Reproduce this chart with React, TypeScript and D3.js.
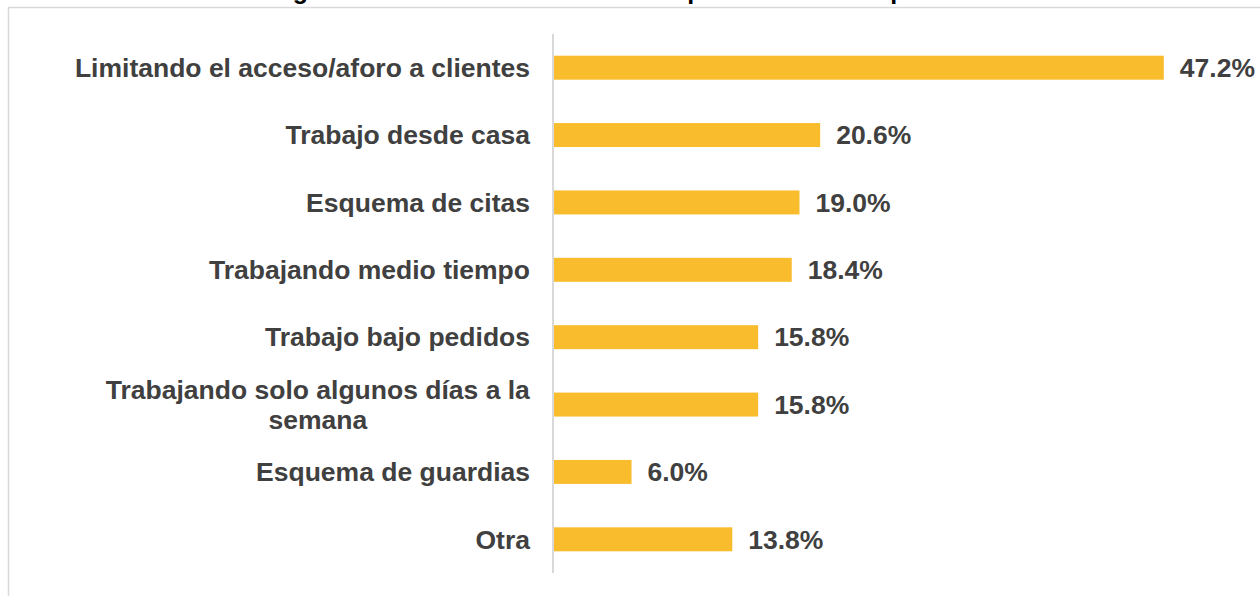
import React from "react";
import * as d3 from "d3";

const categories: string[][] = [
  ["Limitando el acceso/aforo a clientes"],
  ["Trabajo desde casa"],
  ["Esquema de citas"],
  ["Trabajando medio tiempo"],
  ["Trabajo bajo pedidos"],
  ["Trabajando solo algunos días a la", "semana"],
  ["Esquema de guardias"],
  ["Otra"],
];
const values: number[] = [47.2, 20.6, 19.0, 18.4, 15.8, 15.8, 6.0, 13.8];
const title = "Estrategias de los comercios durante la pandemia actual para reabrir";

const W = 1260;
const H = 596;
const FONT = "'Liberation Sans', Arial, Helvetica, sans-serif";
const BAR = "#F9BC2C";
const TXT = "#404040";

export default function App() {
  const keys = categories.map((c) => c.join(" "));
  const x = d3.scaleLinear().domain([0, 50]).range([554, 1200]);
  const y = d3
    .scaleBand<string>()
    .domain(keys)
    .range([34, 573])
    .paddingInner(0.644)
    .paddingOuter(0.322);
  const fmt = (v: number) => v.toFixed(1) + "%";
  const labelRight = 530;

  return (
    <svg
      width={W}
      height={H}
      style={{ position: "absolute", left: 0, top: 0, background: "#fff" }}
      fontFamily={FONT}
    >
      <rect x={0} y={0} width={W} height={H} fill="#fff" />
      <text x={208} y={-1} fontSize={25} fontWeight="bold" fill="#000">
        {title}
      </text>
      <rect
        x={8.5}
        y={7.5}
        width={1400}
        height={800}
        fill="#fff"
        stroke="#d9d9d9"
        strokeWidth={1.5}
      />
      {keys.map((k, i) => {
        const yc = (y(k) as number) + y.bandwidth() / 2;
        return (
          <g key={k}>
            <rect
              x={x(0)}
              y={y(k)}
              width={x(values[i]) - x(0)}
              height={y.bandwidth()}
              fill={BAR}
            />
            <text
              x={x(values[i]) + 16}
              y={yc}
              dy="0.35em"
              fontSize={26.5}
              fontWeight="bold"
              fill={TXT}
            >
              {fmt(values[i])}
            </text>
          </g>
        );
      })}
      <line x1={553} x2={553} y1={34} y2={573} stroke="#d9d9d9" strokeWidth={2} />
      {categories.map((lines, i) => {
        const k = keys[i];
        const yc = (y(k) as number) + y.bandwidth() / 2;
        if (lines.length === 1) {
          return (
            <text
              key={k}
              x={labelRight}
              y={yc}
              dy="0.35em"
              textAnchor="end"
              fontSize={26.5}
              fontWeight="bold"
              fill={TXT}
            >
              {lines[0]}
            </text>
          );
        }
        return (
          <MultiLabel key={k} lines={lines} right={labelRight} yc={yc} />
        );
      })}
    </svg>
  );
}

function MultiLabel({ lines, right, yc }: { lines: string[]; right: number; yc: number }) {
  const ref = React.useRef<SVGTextElement>(null);
  const [cx, setCx] = React.useState<number | null>(null);
  React.useLayoutEffect(() => {
    if (ref.current) {
      const w = ref.current.getBBox().width;
      setCx(right - w / 2);
    }
  }, [right]);
  const lh = 30;
  const start = yc - ((lines.length - 1) * lh) / 2;
  return (
    <text
      ref={ref}
      textAnchor="middle"
      fontSize={26.5}
      fontWeight="bold"
      fill={TXT}
      visibility={cx === null ? "hidden" : "visible"}
    >
      {lines.map((l, j) => (
        <tspan key={j} x={cx ?? right} y={start + j * lh} dy="0.35em">
          {l}
        </tspan>
      ))}
    </text>
  );
}
